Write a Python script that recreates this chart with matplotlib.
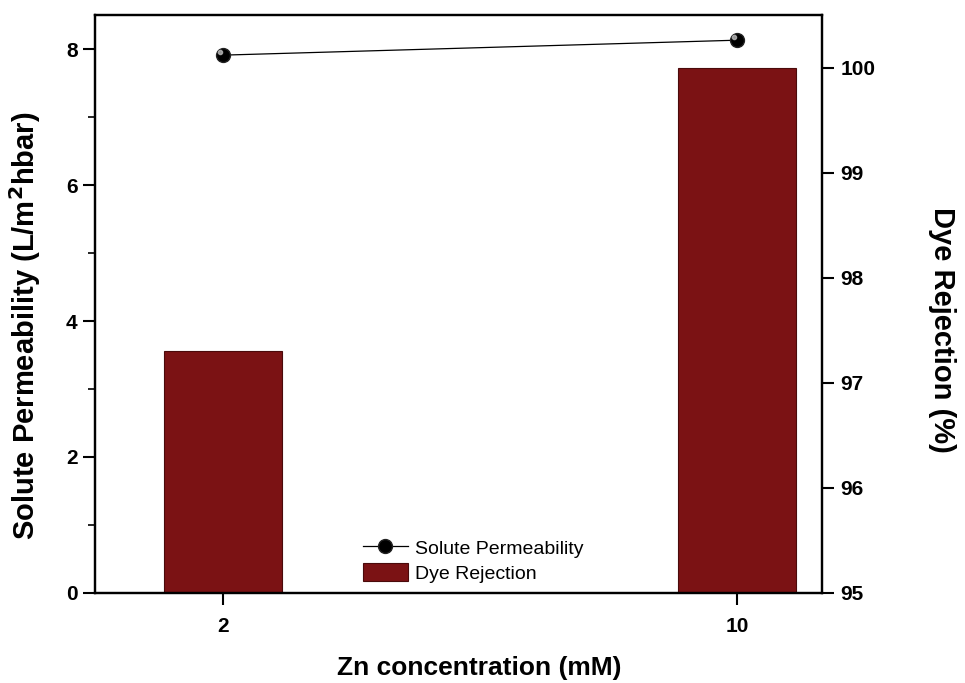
import matplotlib.pyplot as plt
import numpy as np

plt.rcParams['font.family'] = ['Liberation Sans', 'DejaVu Sans']

zn = ['2', '10']
permeability = [7.91, 8.13]
rejection = [97.3, 100.0]

x = np.arange(len(zn))

fig = plt.figure(figsize=(9.65, 6.83), dpi=100)
ax = fig.add_axes([0.0984, 0.1318, 0.7534, 0.8462])
ax2 = ax.twinx()

# bars for rejection on the right axis, permeability line on the left
bars = ax2.bar(x, [r - 95 for r in rejection], bottom=95, width=0.23,
               color='#7b1214', edgecolor='#4a0a0b', linewidth=0.8,
               label='Dye Rejection')
ax2.set_ylim(95, 100.5)
ax.set_zorder(ax2.get_zorder() + 1)
ax.patch.set_visible(False)

line, = ax.plot(x, permeability, '-', color='black', lw=0.9,
                marker='o', markersize=10, markerfacecolor='black',
                markeredgecolor='#222222', label='Solute Permeability')
ax.plot(x - 0.006, np.array(permeability) + 0.04, 'o', color='#bbbbbb',
        markersize=3, alpha=0.8)

ax.set_xlim(-0.249, 1.165)
ax.set_ylim(0, 8.5)
ax.set_xticks(x)
ax.set_xticklabels(zn)
ax.set_yticks([0, 2, 4, 6, 8])
ax.set_yticks([1, 3, 5, 7], minor=True)
ax2.set_yticks([95, 96, 97, 98, 99, 100])

for a in (ax, ax2):
    for s in a.spines.values():
        s.set_linewidth(1.6)
ax.tick_params(axis='both', which='major', direction='out', length=8.5, width=1.5,
               labelsize=15, pad=4)
ax.tick_params(axis='x', pad=9)
ax.tick_params(axis='y', which='minor', direction='out', length=5, width=1.2)
ax2.tick_params(axis='y', which='major', direction='out', length=8.5, width=1.5,
                labelsize=15, pad=5)
for lab in ax.get_xticklabels() + ax.get_yticklabels() + ax2.get_yticklabels():
    lab.set_fontweight('bold')

ax.set_xlabel('Zn concentration (mM)', fontsize=19, fontweight='bold',
              va='bottom')
ax.xaxis.set_label_coords(0.528, -0.15)
ax.set_ylabel('Solute Permeability (L/m$^{\\mathbf{2}}$hbar)', fontsize=21,
              fontweight='bold', va='bottom')
ax.yaxis.set_label_coords(-0.0715, 0.462)
ax2.set_ylabel('Dye Rejection (%)', fontsize=21, fontweight='bold',
               rotation=270, va='bottom')
ax2.yaxis.set_label_coords(1.146, 0.455)

ax.legend([line, bars], ['Solute Permeability', 'Dye Rejection'],
          loc='lower center', bbox_to_anchor=(0.52, -0.003), frameon=False,
          fontsize=14, handlelength=2.3, handleheight=1.05, handletextpad=0.35,
          labelspacing=0.3, borderaxespad=0.2)

fig.savefig('out.png', dpi=100)
